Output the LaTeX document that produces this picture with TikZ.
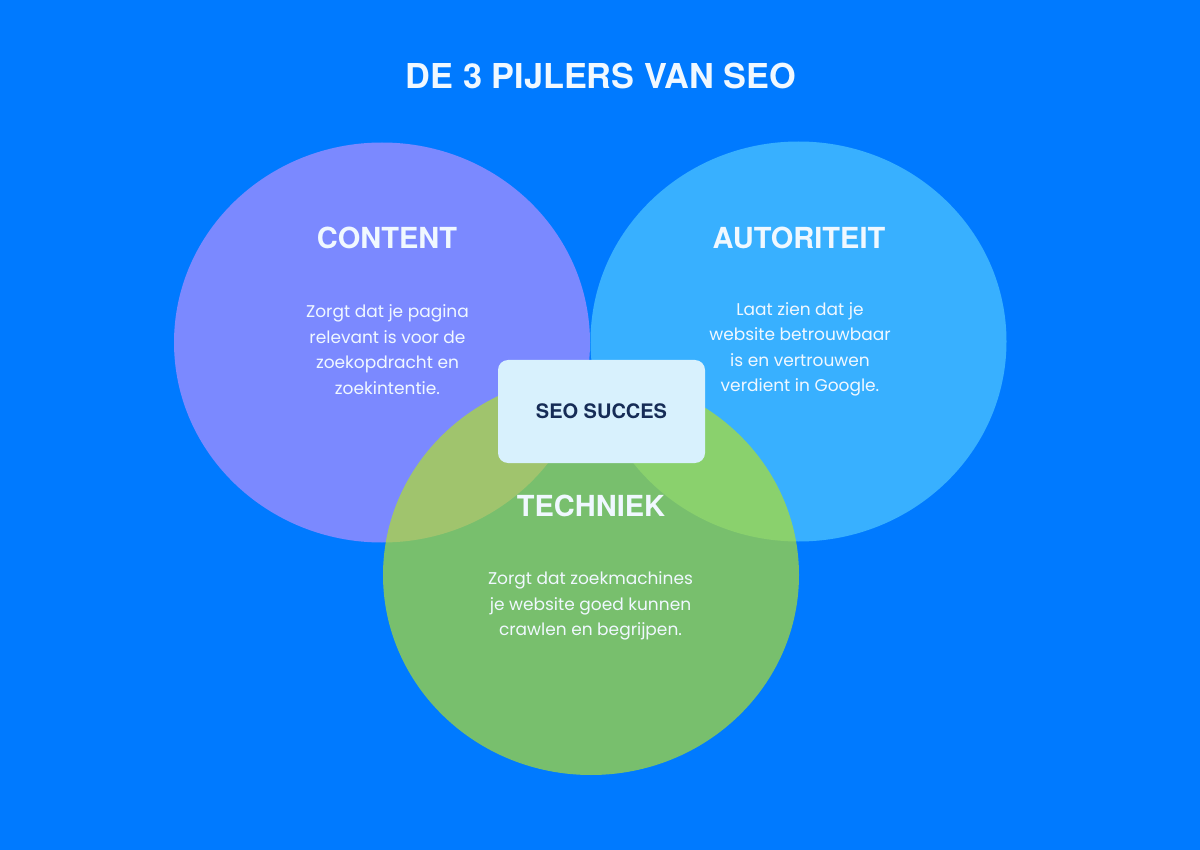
\documentclass[tikz,border=0pt]{standalone}
\usepackage{fontspec}
\setmainfont{Poppins}
\newfontfamily\headfont{TeX Gyre Heros}
\newfontfamily\bodyfont{Poppins}
\definecolor{bgblue}{RGB}{0,122,255}
\definecolor{purplec}{RGB}{123,137,255}
\definecolor{bluec}{RGB}{56,176,255}
\definecolor{greenc}{RGB}{178,225,40}
\definecolor{boxc}{RGB}{216,241,253}
\definecolor{navy}{RGB}{22,44,86}
\definecolor{txt}{RGB}{240,248,255}
\begin{document}
\begin{tikzpicture}[x=1pt,y=-1pt,
  headtxt/.style={anchor=base,text=txt,inner sep=0pt,font=\headfont\bfseries\fontsize{29}{34}\selectfont},
  bodytxt/.style={anchor=center,text=txt,inner sep=0pt,align=center,font=\bodyfont\fontsize{17}{25.5}\selectfont},
  succbox/.style={fill=boxc,rounded corners=10pt,minimum width=207pt,minimum height=103pt,inner sep=0pt}]
\fill[bgblue] (0,0) rectangle (1200,850);
\node[anchor=base,text=txt,inner sep=0pt,font=\headfont\bfseries\fontsize{34.3}{40}\selectfont] (title) at (601,89) {DE 3 PIJLERS VAN SEO};
\fill[purplec] (382,342.5) ellipse [x radius=208pt, y radius=200pt];
\fill[bluec] (798.5,341.5) ellipse [x radius=208pt, y radius=200pt];
\fill[greenc,opacity=0.675] (591,575) ellipse [x radius=208pt, y radius=200pt];
\node[headtxt] (content) at (387,249) {CONTENT};
\node[headtxt] (autoriteit) at (799,249) {AUTORITEIT};
\node[headtxt] (techniek) at (591,516) {TECHNIEK};
\node[bodytxt] (contentbody) at (387.5,349.5) {Zorgt dat je pagina\\relevant is voor de\\zoekopdracht en\\zoekintentie.};
\node[bodytxt] (autbody) at (800,349.5) {Laat zien dat je\\website betrouwbaar\\is en vertrouwen\\verdient in Google.};
\node[bodytxt] (techbody) at (590.5,606) {Zorgt dat zoekmachines\\je website goed kunnen\\crawlen en begrijpen.};
\node[succbox] (succes) at (601.5,411.5) {};
\node[anchor=base,text=navy,inner sep=0pt,font=\headfont\bfseries\fontsize{20}{24}\selectfont] (succestxt) at (601.5,418) {SEO SUCCES};
\end{tikzpicture}
\end{document}
